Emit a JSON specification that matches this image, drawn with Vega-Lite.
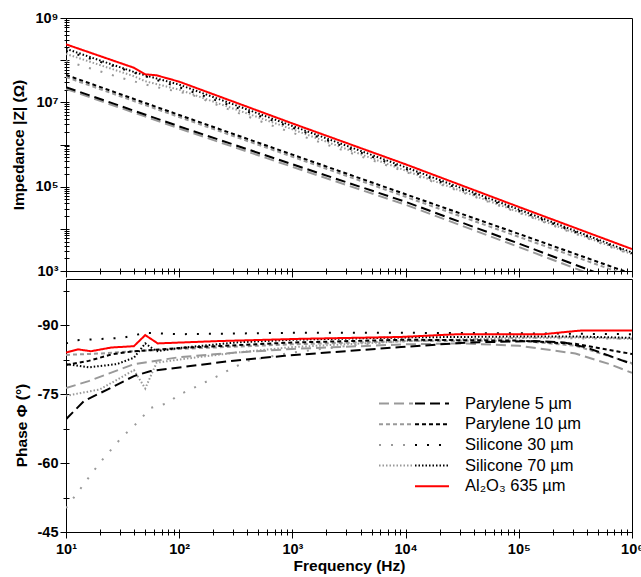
{
  "$schema": "https://vega.github.io/schema/vega-lite/v6.json",
  "background": "white",
  "padding": {"left": 11, "top": 9, "right": 0, "bottom": 2},
  "config": {
    "font": "Liberation Sans",
    "view": {"stroke": "black", "strokeWidth": 1},
    "axis": {
      "domain": false, "grid": false, "tickColor": "black", "tickWidth": 1, "offset": -3,
      "labelFont": "Liberation Sans", "labelFontWeight": "bold", "labelFontSize": 14.5, "labelColor": "black",
      "titleFont": "Liberation Sans", "titleFontWeight": "bold", "titleFontSize": 15.5, "titleColor": "black",
      "labelOverlap": false, "labelFlush": false
    }
  },
  "datasets": {
    "imp": [
      {"m": "Parylene 5 µm", "s": "g", "f": 10, "v": 2.09e7},
      {"m": "Parylene 5 µm", "s": "g", "f": 100, "v": 2.40e6},
      {"m": "Parylene 5 µm", "s": "g", "f": 1000, "v": 2.95e5},
      {"m": "Parylene 5 µm", "s": "g", "f": 10000, "v": 3.72e4},
      {"m": "Parylene 5 µm", "s": "g", "f": 100000, "v": 3.72e3},
      {"m": "Parylene 5 µm", "s": "g", "f": 1000000, "v": 355},
      {"m": "Parylene 10 µm", "s": "g", "f": 10, "v": 3.98e7},
      {"m": "Parylene 10 µm", "s": "g", "f": 100, "v": 4.47e6},
      {"m": "Parylene 10 µm", "s": "g", "f": 1000, "v": 5.13e5},
      {"m": "Parylene 10 µm", "s": "g", "f": 10000, "v": 5.75e4},
      {"m": "Parylene 10 µm", "s": "g", "f": 100000, "v": 6.46e3},
      {"m": "Parylene 10 µm", "s": "g", "f": 1000000, "v": 724},
      {"m": "Silicone 30 µm", "s": "g", "f": 10, "v": 9.55e7},
      {"m": "Silicone 30 µm", "s": "g", "f": 12.59, "v": 7.94e7},
      {"m": "Silicone 30 µm", "s": "g", "f": 31.62, "v": 3.72e7},
      {"m": "Silicone 30 µm", "s": "g", "f": 56.2, "v": 2.45e7},
      {"m": "Silicone 30 µm", "s": "g", "f": 125.9, "v": 1.55e7},
      {"m": "Silicone 30 µm", "s": "g", "f": 251.2, "v": 7.41e6},
      {"m": "Silicone 30 µm", "s": "g", "f": 741.3, "v": 2.51e6},
      {"m": "Silicone 30 µm", "s": "g", "f": 10000, "v": 2.24e5},
      {"m": "Silicone 30 µm", "s": "g", "f": 100000, "v": 2.40e4},
      {"m": "Silicone 30 µm", "s": "g", "f": 1000000, "v": 2.40e3},
      {"m": "Silicone 70 µm", "s": "g", "f": 10, "v": 1.41e8},
      {"m": "Silicone 70 µm", "s": "g", "f": 39.81, "v": 4.17e7},
      {"m": "Silicone 70 µm", "s": "g", "f": 50.12, "v": 3.16e7},
      {"m": "Silicone 70 µm", "s": "g", "f": 100, "v": 2.0e7},
      {"m": "Silicone 70 µm", "s": "g", "f": 1000, "v": 2.29e6},
      {"m": "Silicone 70 µm", "s": "g", "f": 10000, "v": 2.40e5},
      {"m": "Silicone 70 µm", "s": "g", "f": 100000, "v": 2.51e4},
      {"m": "Silicone 70 µm", "s": "g", "f": 1000000, "v": 2.51e3},
      {"m": "Parylene 5 µm", "s": "k", "f": 10, "v": 2.29e7},
      {"m": "Parylene 5 µm", "s": "k", "f": 100, "v": 2.69e6},
      {"m": "Parylene 5 µm", "s": "k", "f": 1000, "v": 3.39e5},
      {"m": "Parylene 5 µm", "s": "k", "f": 10000, "v": 4.37e4},
      {"m": "Parylene 5 µm", "s": "k", "f": 100000, "v": 4.47e3},
      {"m": "Parylene 5 µm", "s": "k", "f": 1000000, "v": 437},
      {"m": "Parylene 10 µm", "s": "k", "f": 10, "v": 4.47e7},
      {"m": "Parylene 10 µm", "s": "k", "f": 100, "v": 5.01e6},
      {"m": "Parylene 10 µm", "s": "k", "f": 1000, "v": 5.75e5},
      {"m": "Parylene 10 µm", "s": "k", "f": 10000, "v": 6.61e4},
      {"m": "Parylene 10 µm", "s": "k", "f": 100000, "v": 7.59e3},
      {"m": "Parylene 10 µm", "s": "k", "f": 1000000, "v": 851},
      {"m": "Silicone 30 µm", "s": "k", "f": 10, "v": 1.66e8},
      {"m": "Silicone 30 µm", "s": "k", "f": 100, "v": 2.29e7},
      {"m": "Silicone 30 µm", "s": "k", "f": 1000, "v": 2.51e6},
      {"m": "Silicone 30 µm", "s": "k", "f": 10000, "v": 2.63e5},
      {"m": "Silicone 30 µm", "s": "k", "f": 100000, "v": 2.69e4},
      {"m": "Silicone 30 µm", "s": "k", "f": 1000000, "v": 2.63e3},
      {"m": "Silicone 70 µm", "s": "k", "f": 10, "v": 1.86e8},
      {"m": "Silicone 70 µm", "s": "k", "f": 39.81, "v": 5.25e7},
      {"m": "Silicone 70 µm", "s": "k", "f": 50.12, "v": 4.37e7},
      {"m": "Silicone 70 µm", "s": "k", "f": 100, "v": 2.63e7},
      {"m": "Silicone 70 µm", "s": "k", "f": 1000, "v": 2.75e6},
      {"m": "Silicone 70 µm", "s": "k", "f": 10000, "v": 2.88e5},
      {"m": "Silicone 70 µm", "s": "k", "f": 100000, "v": 2.88e4},
      {"m": "Silicone 70 µm", "s": "k", "f": 1000000, "v": 2.75e3},
      {"m": "Al₂O₃ 635 µm", "s": "k", "f": 10, "v": 2.377e8},
      {"m": "Al₂O₃ 635 µm", "s": "k", "f": 39.81, "v": 6.61e7},
      {"m": "Al₂O₃ 635 µm", "s": "k", "f": 50.12, "v": 4.62e7},
      {"m": "Al₂O₃ 635 µm", "s": "k", "f": 63.1, "v": 4.37e7},
      {"m": "Al₂O₃ 635 µm", "s": "k", "f": 100, "v": 3.09e7},
      {"m": "Al₂O₃ 635 µm", "s": "k", "f": 1000, "v": 3.16e6},
      {"m": "Al₂O₃ 635 µm", "s": "k", "f": 10000, "v": 3.39e5},
      {"m": "Al₂O₃ 635 µm", "s": "k", "f": 100000, "v": 3.31e4},
      {"m": "Al₂O₃ 635 µm", "s": "k", "f": 1000000, "v": 3.31e3}
    ],
    "ph": [
      {"m": "Parylene 5 µm", "s": "g", "f": 10, "v": -76.3},
      {"m": "Parylene 5 µm", "s": "g", "f": 15.85, "v": -77.8},
      {"m": "Parylene 5 µm", "s": "g", "f": 39.81, "v": -81.5},
      {"m": "Parylene 5 µm", "s": "g", "f": 100, "v": -83.0},
      {"m": "Parylene 5 µm", "s": "g", "f": 316.2, "v": -84.0},
      {"m": "Parylene 5 µm", "s": "g", "f": 1000, "v": -84.8},
      {"m": "Parylene 5 µm", "s": "g", "f": 10000, "v": -85.8},
      {"m": "Parylene 5 µm", "s": "g", "f": 31623, "v": -86.0},
      {"m": "Parylene 5 µm", "s": "g", "f": 100000, "v": -85.5},
      {"m": "Parylene 5 µm", "s": "g", "f": 316228, "v": -83.8},
      {"m": "Parylene 5 µm", "s": "g", "f": 630957, "v": -81.5},
      {"m": "Parylene 5 µm", "s": "g", "f": 1000000, "v": -79.6},
      {"m": "Parylene 10 µm", "s": "g", "f": 10, "v": -83.5},
      {"m": "Parylene 10 µm", "s": "g", "f": 19.95, "v": -83.8},
      {"m": "Parylene 10 µm", "s": "g", "f": 39.81, "v": -84.3},
      {"m": "Parylene 10 µm", "s": "g", "f": 100, "v": -84.8},
      {"m": "Parylene 10 µm", "s": "g", "f": 1000, "v": -85.8},
      {"m": "Parylene 10 µm", "s": "g", "f": 10000, "v": -86.5},
      {"m": "Parylene 10 µm", "s": "g", "f": 100000, "v": -86.6},
      {"m": "Parylene 10 µm", "s": "g", "f": 316228, "v": -85.5},
      {"m": "Parylene 10 µm", "s": "g", "f": 1000000, "v": -81.7},
      {"m": "Silicone 30 µm", "s": "g", "f": 10, "v": -50.2},
      {"m": "Silicone 30 µm", "s": "g", "f": 19.95, "v": -60.1},
      {"m": "Silicone 30 µm", "s": "g", "f": 30.9, "v": -65.5},
      {"m": "Silicone 30 µm", "s": "g", "f": 42.7, "v": -68.8},
      {"m": "Silicone 30 µm", "s": "g", "f": 56.2, "v": -72.0},
      {"m": "Silicone 30 µm", "s": "g", "f": 81.3, "v": -73.1},
      {"m": "Silicone 30 µm", "s": "g", "f": 95.5, "v": -74.6},
      {"m": "Silicone 30 µm", "s": "g", "f": 144.5, "v": -76.7},
      {"m": "Silicone 30 µm", "s": "g", "f": 218.8, "v": -78.9},
      {"m": "Silicone 30 µm", "s": "g", "f": 269.2, "v": -80.1},
      {"m": "Silicone 30 µm", "s": "g", "f": 398.1, "v": -82.2},
      {"m": "Silicone 30 µm", "s": "g", "f": 602.6, "v": -83.0},
      {"m": "Silicone 30 µm", "s": "g", "f": 977.2, "v": -84.0},
      {"m": "Silicone 30 µm", "s": "g", "f": 3162, "v": -85.5},
      {"m": "Silicone 30 µm", "s": "g", "f": 10000, "v": -86.5},
      {"m": "Silicone 30 µm", "s": "g", "f": 100000, "v": -87.2},
      {"m": "Silicone 30 µm", "s": "g", "f": 1000000, "v": -87.0},
      {"m": "Silicone 70 µm", "s": "g", "f": 10, "v": -74.6},
      {"m": "Silicone 70 µm", "s": "g", "f": 19.95, "v": -76.0},
      {"m": "Silicone 70 µm", "s": "g", "f": 39.81, "v": -80.2},
      {"m": "Silicone 70 µm", "s": "g", "f": 50.12, "v": -76.2},
      {"m": "Silicone 70 µm", "s": "g", "f": 63.1, "v": -81.8},
      {"m": "Silicone 70 µm", "s": "g", "f": 100, "v": -82.5},
      {"m": "Silicone 70 µm", "s": "g", "f": 316.2, "v": -84.0},
      {"m": "Silicone 70 µm", "s": "g", "f": 1000, "v": -85.2},
      {"m": "Silicone 70 µm", "s": "g", "f": 10000, "v": -86.5},
      {"m": "Silicone 70 µm", "s": "g", "f": 100000, "v": -87.2},
      {"m": "Silicone 70 µm", "s": "g", "f": 316228, "v": -87.3},
      {"m": "Silicone 70 µm", "s": "g", "f": 1000000, "v": -87.0},
      {"m": "Parylene 5 µm", "s": "k", "f": 10, "v": -69.5},
      {"m": "Parylene 5 µm", "s": "k", "f": 14.45, "v": -73.5},
      {"m": "Parylene 5 µm", "s": "k", "f": 23.4, "v": -76.0},
      {"m": "Parylene 5 µm", "s": "k", "f": 39.81, "v": -78.9},
      {"m": "Parylene 5 µm", "s": "k", "f": 56.2, "v": -80.0},
      {"m": "Parylene 5 µm", "s": "k", "f": 109.6, "v": -80.9},
      {"m": "Parylene 5 µm", "s": "k", "f": 288.4, "v": -82.2},
      {"m": "Parylene 5 µm", "s": "k", "f": 851.1, "v": -83.3},
      {"m": "Parylene 5 µm", "s": "k", "f": 9120, "v": -85.2},
      {"m": "Parylene 5 µm", "s": "k", "f": 35480, "v": -86.2},
      {"m": "Parylene 5 µm", "s": "k", "f": 138000, "v": -86.5},
      {"m": "Parylene 5 µm", "s": "k", "f": 251200, "v": -86.2},
      {"m": "Parylene 5 µm", "s": "k", "f": 398100, "v": -85.1},
      {"m": "Parylene 5 µm", "s": "k", "f": 1000000, "v": -81.5},
      {"m": "Parylene 10 µm", "s": "k", "f": 10, "v": -81.3},
      {"m": "Parylene 10 µm", "s": "k", "f": 15.85, "v": -82.2},
      {"m": "Parylene 10 µm", "s": "k", "f": 25.12, "v": -83.6},
      {"m": "Parylene 10 µm", "s": "k", "f": 39.81, "v": -84.3},
      {"m": "Parylene 10 µm", "s": "k", "f": 100, "v": -85.0},
      {"m": "Parylene 10 µm", "s": "k", "f": 1000, "v": -86.2},
      {"m": "Parylene 10 µm", "s": "k", "f": 10000, "v": -86.8},
      {"m": "Parylene 10 µm", "s": "k", "f": 100000, "v": -86.6},
      {"m": "Parylene 10 µm", "s": "k", "f": 316228, "v": -85.9},
      {"m": "Parylene 10 µm", "s": "k", "f": 1000000, "v": -83.7},
      {"m": "Silicone 30 µm", "s": "k", "f": 10, "v": -86.0},
      {"m": "Silicone 30 µm", "s": "k", "f": 12.59, "v": -86.7},
      {"m": "Silicone 30 µm", "s": "k", "f": 31.62, "v": -87.2},
      {"m": "Silicone 30 µm", "s": "k", "f": 50.12, "v": -88.3},
      {"m": "Silicone 30 µm", "s": "k", "f": 100, "v": -88.0},
      {"m": "Silicone 30 µm", "s": "k", "f": 1000, "v": -88.3},
      {"m": "Silicone 30 µm", "s": "k", "f": 10000, "v": -88.3},
      {"m": "Silicone 30 µm", "s": "k", "f": 100000, "v": -88.2},
      {"m": "Silicone 30 µm", "s": "k", "f": 1000000, "v": -88.0},
      {"m": "Silicone 70 µm", "s": "k", "f": 10, "v": -81.5},
      {"m": "Silicone 70 µm", "s": "k", "f": 15.85, "v": -80.8},
      {"m": "Silicone 70 µm", "s": "k", "f": 28.18, "v": -81.5},
      {"m": "Silicone 70 µm", "s": "k", "f": 39.81, "v": -82.9},
      {"m": "Silicone 70 µm", "s": "k", "f": 50.12, "v": -86.0},
      {"m": "Silicone 70 µm", "s": "k", "f": 63.1, "v": -84.3},
      {"m": "Silicone 70 µm", "s": "k", "f": 100, "v": -85.0},
      {"m": "Silicone 70 µm", "s": "k", "f": 316.2, "v": -86.2},
      {"m": "Silicone 70 µm", "s": "k", "f": 1000, "v": -86.8},
      {"m": "Silicone 70 µm", "s": "k", "f": 10000, "v": -87.3},
      {"m": "Silicone 70 µm", "s": "k", "f": 100000, "v": -87.5},
      {"m": "Silicone 70 µm", "s": "k", "f": 316228, "v": -87.5},
      {"m": "Silicone 70 µm", "s": "k", "f": 1000000, "v": -87.2},
      {"m": "Al₂O₃ 635 µm", "s": "k", "f": 10, "v": -84.0},
      {"m": "Al₂O₃ 635 µm", "s": "k", "f": 12.8, "v": -84.7},
      {"m": "Al₂O₃ 635 µm", "s": "k", "f": 16.6, "v": -84.3},
      {"m": "Al₂O₃ 635 µm", "s": "k", "f": 25.1, "v": -85.1},
      {"m": "Al₂O₃ 635 µm", "s": "k", "f": 39.81, "v": -85.4},
      {"m": "Al₂O₃ 635 µm", "s": "k", "f": 50.12, "v": -87.8},
      {"m": "Al₂O₃ 635 µm", "s": "k", "f": 64.6, "v": -86.0},
      {"m": "Al₂O₃ 635 µm", "s": "k", "f": 218.8, "v": -86.5},
      {"m": "Al₂O₃ 635 µm", "s": "k", "f": 1202, "v": -87.0},
      {"m": "Al₂O₃ 635 µm", "s": "k", "f": 9120, "v": -87.4},
      {"m": "Al₂O₃ 635 µm", "s": "k", "f": 28840, "v": -88.0},
      {"m": "Al₂O₃ 635 µm", "s": "k", "f": 166000, "v": -88.0},
      {"m": "Al₂O₃ 635 µm", "s": "k", "f": 263000, "v": -88.5},
      {"m": "Al₂O₃ 635 µm", "s": "k", "f": 354800, "v": -88.8},
      {"m": "Al₂O₃ 635 µm", "s": "k", "f": 1000000, "v": -88.8}
    ]
  },
  "spacing": 8,
  "bounds": "flush",
  "resolve": {
    "scale": {"color": "independent", "strokeDash": "independent"},
    "legend": {"color": "independent", "strokeDash": "independent"}
  },
  "vconcat": [
    {
      "width": 566,
      "height": 253,
      "resolve": {"scale": {"strokeDash": "independent", "color": "independent"}},
      "layer": [
        {
          "data": {"name": "imp"},
          "transform": [{"filter": "datum.s == 'g'"}],
          "mark": {"type": "line", "clip": true, "stroke": "#999999", "strokeWidth": 2, "strokeCap": "butt"},
          "encoding": {
            "x": {"field": "f", "type": "quantitative",
              "scale": {"type": "log", "domain": [10, 1000000], "nice": false},
              "axis": {"labels": false, "title": null, "tickCount": 100,
                "values": [10,20,30,40,50,60,70,80,90,100,200,300,400,500,600,700,800,900,1000,2000,3000,4000,5000,6000,7000,8000,9000,10000,20000,30000,40000,50000,60000,70000,80000,90000,100000,200000,300000,400000,500000,600000,700000,800000,900000,1000000],
                "tickSize": {"condition": {"test": "abs(log(datum.value)/LN10 - round(log(datum.value)/LN10)) < 0.001", "value": 9}, "value": 6}}},
            "y": {"field": "v", "type": "quantitative",
              "scale": {"type": "log", "domain": [1000, 1000000000], "nice": false},
              "axis": {"title": "Impedance |Z| (Ω)", "titlePadding": 8, "labelPadding": 2, "tickCount": 100,
                "values": [1000,2000,3000,4000,5000,6000,7000,8000,9000,10000,20000,30000,40000,50000,60000,70000,80000,90000,100000,200000,300000,400000,500000,600000,700000,800000,900000,1000000,2000000,3000000,4000000,5000000,6000000,7000000,8000000,9000000,10000000,20000000,30000000,40000000,50000000,60000000,70000000,80000000,90000000,100000000,200000000,300000000,400000000,500000000,600000000,700000000,800000000,900000000,1000000000],
                "labelExpr": "(abs(log(datum.value)/LN10 - round(log(datum.value)/LN10)) < 0.001 && round(log(datum.value)/LN10) % 2 == 1) ? '10' + substring('⁰¹²³⁴⁵⁶⁷⁸⁹', round(log(datum.value)/LN10), round(log(datum.value)/LN10) + 1) : ''",
                "tickSize": {"condition": {"test": "abs(log(datum.value)/LN10 - round(log(datum.value)/LN10)) < 0.001", "value": 9}, "value": 5}}},
            "strokeDash": {"field": "m", "type": "nominal",
              "scale": {"domain": ["Parylene 5 µm", "Parylene 10 µm", "Silicone 30 µm", "Silicone 70 µm"], "range": [[10, 5], [4, 3], [2, 10], [1.5, 2]]},
              "legend": null}
          }
        },
        {
          "data": {"name": "imp"},
          "transform": [{"filter": "datum.s != 'g'"}],
          "mark": {"type": "line", "clip": true, "strokeWidth": 2, "strokeCap": "butt"},
          "encoding": {
            "x": {"field": "f", "type": "quantitative", "scale": {"type": "log", "domain": [10, 1000000], "nice": false}},
            "y": {"field": "v", "type": "quantitative", "scale": {"type": "log", "domain": [1000, 1000000000], "nice": false}},
            "color": {"field": "m", "type": "nominal",
              "scale": {"domain": ["Parylene 5 µm", "Parylene 10 µm", "Silicone 30 µm", "Silicone 70 µm", "Al₂O₃ 635 µm"], "range": ["#000000", "#000000", "#000000", "#000000", "#ff0000"]},
              "legend": null},
            "strokeDash": {"field": "m", "type": "nominal",
              "scale": {"domain": ["Parylene 5 µm", "Parylene 10 µm", "Silicone 30 µm", "Silicone 70 µm", "Al₂O₃ 635 µm"], "range": [[10, 5], [4, 3], [2, 10], [1.5, 2], [1, 0]]},
              "legend": null}
          }
        }
      ]
    },
    {
      "width": 566,
      "height": 253,
      "resolve": {
        "scale": {"strokeDash": "independent", "color": "independent"},
        "legend": {"strokeDash": "independent", "color": "independent"}
      },
      "layer": [
        {
          "data": {"name": "ph"},
          "transform": [{"filter": "datum.s == 'g'"}],
          "mark": {"type": "line", "clip": true, "stroke": "#999999", "strokeWidth": 2, "strokeCap": "butt"},
          "encoding": {
            "x": {"field": "f", "type": "quantitative",
              "scale": {"type": "log", "domain": [10, 1000000], "nice": false},
              "axis": {"title": "Frequency (Hz)", "labelPadding": 4, "titlePadding": 3, "tickCount": 100,
                "values": [10,20,30,40,50,60,70,80,90,100,200,300,400,500,600,700,800,900,1000,2000,3000,4000,5000,6000,7000,8000,9000,10000,20000,30000,40000,50000,60000,70000,80000,90000,100000,200000,300000,400000,500000,600000,700000,800000,900000,1000000],
                "labelExpr": "abs(log(datum.value)/LN10 - round(log(datum.value)/LN10)) < 0.001 ? '10' + substring('⁰¹²³⁴⁵⁶⁷⁸⁹', round(log(datum.value)/LN10), round(log(datum.value)/LN10) + 1) : ''",
                "tickSize": {"condition": {"test": "abs(log(datum.value)/LN10 - round(log(datum.value)/LN10)) < 0.001", "value": 9}, "value": 6}}},
            "y": {"field": "v", "type": "quantitative",
              "scale": {"domain": [-100, -45], "reverse": true, "nice": false, "zero": false},
              "axis": {"title": "Phase Φ (°)", "titlePadding": 8, "labelPadding": 2, "titleY": 146, "tickCount": 100,
                "values": [-97.5, -90, -82.5, -75, -67.5, -60, -52.5, -45],
                "labelExpr": "abs(datum.value % 15) < 0.01 ? '-' + format(abs(datum.value), 'd') : ''",
                "tickSize": {"condition": {"test": "abs(datum.value % 15) < 0.01", "value": 9}, "value": 6}}},
            "strokeDash": {"field": "m", "type": "nominal",
              "scale": {"domain": ["Parylene 5 µm", "Parylene 10 µm", "Silicone 30 µm", "Silicone 70 µm"], "range": [[10, 5], [4, 3], [2, 10], [1.5, 2]]},
              "legend": {"orient": "none", "legendX": 312, "legendY": 116, "title": null, "padding": 0,
                "symbolType": "stroke", "symbolSize": 1156, "symbolStrokeWidth": 2, "symbolStrokeColor": "#999999",
                "clipHeight": 17, "labelFont": "Liberation Sans", "labelFontSize": 16.5, "labelColor": "black", "labelOpacity": 0,
                "labelOffset": 15, "rowPadding": 3.7, "labelLimit": 300}}
          }
        },
        {
          "data": {"name": "ph"},
          "transform": [{"filter": "datum.s != 'g'"}],
          "mark": {"type": "line", "clip": true, "strokeWidth": 2, "strokeCap": "butt"},
          "encoding": {
            "x": {"field": "f", "type": "quantitative", "scale": {"type": "log", "domain": [10, 1000000], "nice": false}},
            "y": {"field": "v", "type": "quantitative", "scale": {"domain": [-100, -45], "reverse": true, "nice": false, "zero": false}},
            "color": {"field": "m", "type": "nominal",
              "scale": {"domain": ["Parylene 5 µm", "Parylene 10 µm", "Silicone 30 µm", "Silicone 70 µm", "Al₂O₃ 635 µm"], "range": ["#000000", "#000000", "#000000", "#000000", "#ff0000"]},
              "legend": {"orient": "none", "legendX": 348, "legendY": 116, "title": null, "padding": 0,
                "symbolType": "stroke", "symbolSize": 1156, "symbolStrokeWidth": 2,
                "clipHeight": 17, "labelFont": "Liberation Sans", "labelFontSize": 16.5, "labelColor": "black",
                "labelOffset": 15, "rowPadding": 3.7, "labelLimit": 300}},
            "strokeDash": {"field": "m", "type": "nominal",
              "scale": {"domain": ["Parylene 5 µm", "Parylene 10 µm", "Silicone 30 µm", "Silicone 70 µm", "Al₂O₃ 635 µm"], "range": [[10, 5], [4, 3], [2, 10], [1.5, 2], [1, 0]]},
              "legend": {"orient": "none", "legendX": 348, "legendY": 116, "title": null, "padding": 0,
                "symbolType": "stroke", "symbolSize": 1156, "symbolStrokeWidth": 2,
                "clipHeight": 17, "labelFont": "Liberation Sans", "labelFontSize": 16.5, "labelColor": "black",
                "labelOffset": 15, "rowPadding": 3.7, "labelLimit": 300}}
          }
        }
      ]
    }
  ]
}
